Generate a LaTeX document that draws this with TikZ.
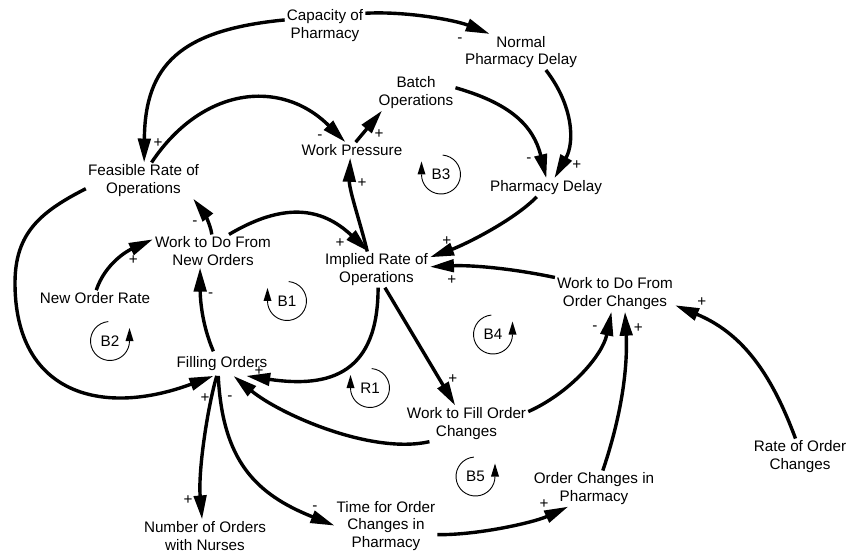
\documentclass[tikz,border=0pt]{standalone}
\usepackage{fontspec}
\setmainfont{Liberation Sans}
\usetikzlibrary{arrows.meta}
\begin{document}
\begin{tikzpicture}[x=1bp,y=1bp,
  var/.style={align=center, inner xsep=2bp, inner ysep=2bp,
    font=\fontsize{15.3}{17.6}\selectfont},
  link/.style={line width=3.4bp, -{Triangle[length=24bp,width=12.5bp]}},
  plussign/.style={inner sep=0pt, font=\fontsize{15.3}{17.6}\selectfont,
    text height=10.8bp, text depth=0pt},
  minussign/.style={inner sep=0pt, font=\fontsize{15.3}{17.6}\selectfont,
    text height=8.2bp, text depth=0pt},
  looplabel/.style={inner sep=0pt, font=\fontsize{15.3}{17.6}\selectfont},
  loopsym/.style={line width=0.9bp},
  loopccw/.pic={
    \draw[loopsym] (95:19.5) arc[start angle=95, end angle=360, radius=19.5];
    \fill (15.5,0) -- (23.5,0) -- (19.5,13) -- cycle;
  },
  loopcw/.pic={
    \draw[loopsym] (85:19.5) arc[start angle=85, end angle=-180, radius=19.5];
    \fill (-23.5,0) -- (-15.5,0) -- (-19.5,13) -- cycle;
  },
]
\useasboundingbox (0,0) rectangle (848,-554);

% variables
\node[var] (cap)   at (325,-25.6)  {Capacity of\\Pharmacy};
\node[var] (npd)   at (521,-52)    {Normal\\Pharmacy Delay};
\node[var] (batch) at (416,-92.6)  {Batch\\Operations};
\node[var] (wp)    at (352,-150)   {Work Pressure};
\node[var] (pd)    at (546,-187.6) {Pharmacy Delay};
\node[var] (fro)   at (143.5,-180.6) {Feasible Rate of\\Operations};
\node[var] (wdn)   at (213,-251)   {Work to Do From\\New Orders};
\node[var] (iro)   at (376.5,-269.6) {Implied Rate of\\Operations};
\node[var] (nor)   at (95,-298)    {New Order Rate};
\node[var, inner ysep=5bp] (fo) at (222,-363.6) {Filling Orders};
\node[var] (wdc)   at (615,-293.6) {Work to Do From\\Order Changes};
\node[var] (wfc)   at (466.5,-423.6) {Work to Fill Order\\Changes};
\node[var] (ocp)   at (594,-488.6) {Order Changes in\\Pharmacy};
\node[var] (roc)   at (800,-456.6) {Rate of Order\\Changes};
\node[var] (non)   at (205,-536)   {Number of Orders\\with Nurses};
\node[var] (tfo)   at (386,-525.6) {Time for Order\\Changes in\\Pharmacy};

% causal links
\draw[link] (cap.172) .. controls (180,-30) and (145,-65) .. (fro.88);
\draw[link] (cap.17) .. controls (405,-11) and (455,-20) .. (npd.150);
\draw[link] (fro.66) .. controls (201,-88) and (280,-77) .. (wp.130);
\draw[link] (wp.65) -- (batch.208);
\draw[link] (batch.7) .. controls (509.5,-103.2) and (533.3,-125) .. (pd.88);
\draw[link] (npd.324) .. controls (573,-105) and (575,-142) .. (pd.48);
\draw[link] (pd.225) .. controls (512.3,-221.6) and (462.9,-245.4) .. (iro.13);
\draw[link] (wdc.165) .. controls (510,-268) and (470,-265) .. (iro.3);
\draw[link] (iro.117) .. controls (361,-225) and (349,-190) .. (wp.257);
\draw[link] (wdn.46) .. controls (282.1,-203) and (320.7,-206.1) .. (iro.114);
\draw[link] (wdn.94) .. controls (210,-222) and (202,-210) .. (fro.340);
\draw[link] (nor.81) .. controls (105.1,-263.8) and (126.8,-251.1) .. (wdn.169);
\draw[link] (fo.125) .. controls (201.5,-323.9) and (200.2,-297.4) .. (wdn.232);
\draw[link] (iro.275) .. controls (378.1,-372.6) and (331,-388.5) .. (fo.333);
\draw[link] (iro.295) -- (wfc.122);
\draw[link] (fro.188) .. controls (40.5,-211.8) and (15,-233) .. (15,-283)
  .. controls (15,-393) and (100.7,-417.8) .. (fo.235);
\draw[link] (fo.247) .. controls (208,-405) and (198,-470) .. (non.100);
\draw[link] (fo.253) .. controls (222.5,-460.8) and (255.5,-494.1) .. (tfo.180);
\draw[link] (wfc.206) .. controls (371.3,-454.8) and (279.6,-414.2) .. (fo.313);
\draw[link] (wfc.11) .. controls (569.5,-393.2) and (602.5,-355.7) .. (wdc.259);
\draw[link] (ocp.64) .. controls (622.1,-413.6) and (627.75,-366.6) .. (wdc.299);
\draw[link] (roc.104) .. controls (770.4,-370.9) and (740.7,-332.4) .. (wdc.349);
\draw[link] (tfo.350) .. controls (480,-535) and (535,-522) .. (ocp.215);

% link polarities
\node[plussign]  (s1)  at (158,-142)     {+};
\node[minussign] (s2)  at (460,-38)      {-};
\node[minussign] (s3)  at (320,-135)     {-};
\node[plussign]  (s4)  at (379,-133)     {+};
\node[minussign] (s5)  at (529,-158)     {-};
\node[plussign]  (s6)  at (576.7,-164)   {+};
\node[plussign]  (s7)  at (446.7,-240)   {+};
\node[plussign]  (s8)  at (451.7,-279.3) {+};
\node[plussign]  (s9)  at (362,-181.7)   {+};
\node[plussign]  (s10) at (340,-242.3)   {+};
\node[minussign] (s11) at (195,-221.7)   {-};
\node[plussign]  (s12) at (133.3,-259)   {+};
\node[minussign] (s13) at (210.7,-293.3) {-};
\node[plussign]  (s14) at (259,-370)     {+};
\node[plussign]  (s15) at (452.7,-378.3) {+};
\node[plussign]  (s16) at (205,-396.7)   {+};
\node[plussign]  (s17) at (188,-499.3)   {+};
\node[minussign] (s18) at (315,-506)     {-};
\node[minussign] (s19) at (230,-396.7)   {-};
\node[minussign] (s20) at (595,-326.7)   {-};
\node[plussign]  (s21) at (638.3,-326.7) {+};
\node[plussign]  (s22) at (701.7,-300.7) {+};
\node[plussign]  (s23) at (544,-503.3)   {+};

% feedback loop markers
\pic at (110,-341) {loopccw};
\node[looplabel] (b2) at (110,-341) {B2};
\pic at (287,-301) {loopcw};
\node[looplabel] (b1) at (287,-301) {B1};
\pic at (370,-388) {loopcw};
\node[looplabel] (r1) at (370,-388) {R1};
\pic at (441,-174.5) {loopcw};
\node[looplabel] (b3) at (441,-174.5) {B3};
\pic at (493,-334.5) {loopccw};
\node[looplabel] (b4) at (493,-334.5) {B4};
\pic at (475.5,-476.5) {loopccw};
\node[looplabel] (b5) at (475.5,-476.5) {B5};
\end{tikzpicture}
\end{document}
